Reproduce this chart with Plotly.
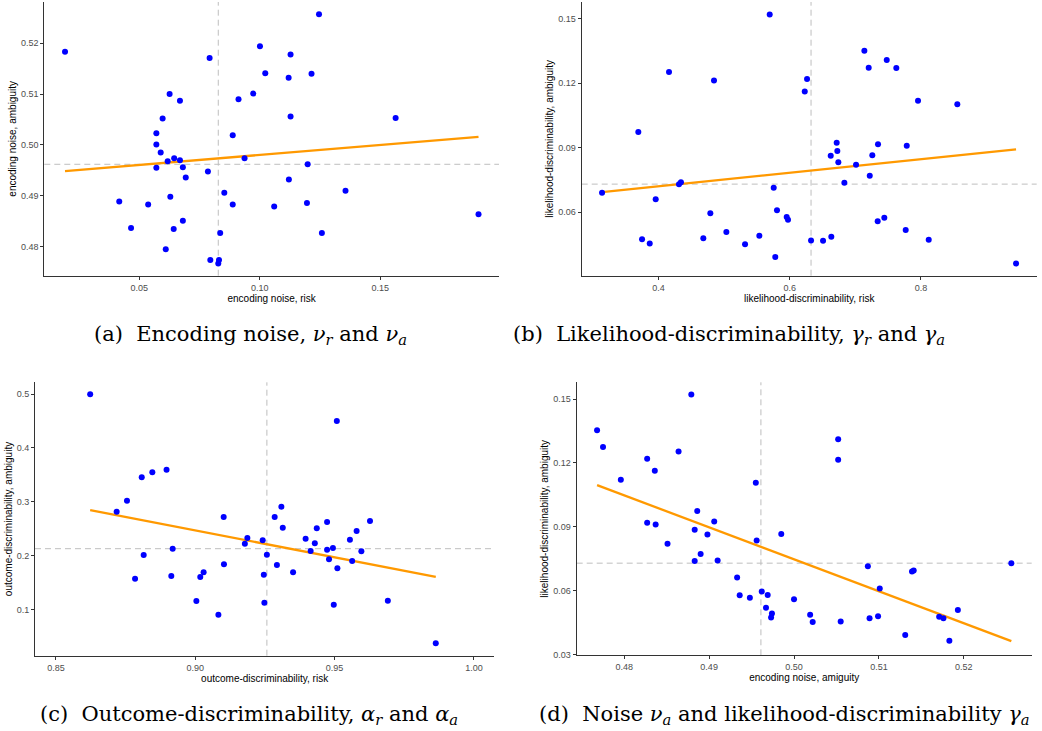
import numpy as np
import plotly.graph_objects as go

# ---------------- data ----------------
# (a) encoding noise: risk (x) vs ambiguity (y)
a_x = [0.0192, 0.0792, 0.0626, 0.0669, 0.0597, 0.0571, 0.0571, 0.0589, 0.0645, 0.0669,
       0.0618, 0.0571, 0.0681, 0.0693, 0.0785, 0.0417, 0.0537, 0.0629, 0.0466, 0.0643,
       0.0681, 0.0610, 0.0795, 0.0831, 0.0828, 0.0836, 0.0853, 0.0888, 0.0888, 0.0912,
       0.0937, 0.0973, 0.1001, 0.1246, 0.1128, 0.1023, 0.1120, 0.1215, 0.1128, 0.1564,
       0.1199, 0.1121, 0.1356, 0.1060, 0.1196, 0.1258, 0.1908]
a_y = [0.5183, 0.5171, 0.5100, 0.5087, 0.5052, 0.5023, 0.5001, 0.4985, 0.4974, 0.4970,
       0.4968, 0.4955, 0.4956, 0.4936, 0.4948, 0.4889, 0.4883, 0.4898, 0.4837, 0.4835,
       0.4851, 0.4795, 0.4774, 0.4774, 0.4767, 0.4827, 0.4906, 0.4883, 0.5019, 0.5090,
       0.4974, 0.5101, 0.5194, 0.5257, 0.5178, 0.5141, 0.5132, 0.5140, 0.5056, 0.5053,
       0.4962, 0.4932, 0.4910, 0.4879, 0.4886, 0.4827, 0.4864]
a_ref = (0.0828, 0.4962)

# (b) likelihood-discriminability: risk (x) vs ambiguity (y)
b_x = [0.3139, 0.3692, 0.4160, 0.4846, 0.4312, 0.4342, 0.3957, 0.3749, 0.3866, 0.4790,
       0.4683, 0.5034, 0.5319, 0.5537, 0.5780, 0.5695, 0.5756, 0.5806, 0.5954, 0.5974,
       0.6229, 0.6264, 0.6325, 0.6508, 0.6634, 0.6625, 0.6716, 0.6726, 0.6741, 0.6833,
       0.7011, 0.7138, 0.7204, 0.7220, 0.7259, 0.7346, 0.7341, 0.7442, 0.7479, 0.7625,
       0.7768, 0.7784, 0.7956, 0.8119, 0.8555, 0.9450]
b_y = [0.0691, 0.0973, 0.1253, 0.1213, 0.0730, 0.0740, 0.0661, 0.0475, 0.0455, 0.0595,
       0.0479, 0.0508, 0.0451, 0.0491, 0.0392, 0.1520, 0.0714, 0.0609, 0.0578, 0.0565,
       0.1162, 0.1220, 0.0469, 0.0467, 0.0486, 0.0863, 0.0923, 0.0885, 0.0833, 0.0737,
       0.0821, 0.1351, 0.1272, 0.0770, 0.0865, 0.0916, 0.0558, 0.0574, 0.1308, 0.1271,
       0.0517, 0.0909, 0.1119, 0.0472, 0.1103, 0.0362]
b_ref = (0.6325, 0.0731)

# (c) outcome-discriminability: risk (x) vs ambiguity (y)
c_x = [0.8623, 0.8718, 0.8755, 0.8808, 0.8846, 0.8897, 0.8784, 0.8815, 0.8919, 0.8914,
       0.9018, 0.9030, 0.9004, 0.9083, 0.9102, 0.9103, 0.9178, 0.9187, 0.9508, 0.9309,
       0.9285, 0.9314, 0.9242, 0.9257, 0.9293, 0.9246, 0.9248, 0.9351, 0.9396, 0.9414,
       0.9429, 0.9436, 0.9473, 0.9473, 0.9494, 0.9480, 0.9510, 0.9497, 0.9555, 0.9563,
       0.9579, 0.9596, 0.9627, 0.9691, 0.9863]
c_y = [0.4994, 0.2816, 0.3020, 0.3455, 0.3547, 0.3596, 0.1573, 0.2013, 0.2130, 0.1623,
       0.1605, 0.1692, 0.1160, 0.0905, 0.2718, 0.1840, 0.2223, 0.2328, 0.4499, 0.2909,
       0.2718, 0.2520, 0.2286, 0.2019, 0.1827, 0.1648, 0.1128, 0.1692, 0.2316, 0.2087,
       0.2230, 0.2508, 0.2625, 0.2111, 0.2143, 0.1933, 0.1766, 0.1091, 0.2297, 0.1902,
       0.2458, 0.2082, 0.2644, 0.1165, 0.0375]
c_ref = (0.9257, 0.2130)

# (d) encoding noise (ambiguity) vs likelihood-discriminability (ambiguity)
d_x = [0.4768, 0.4775, 0.4796, 0.4827, 0.4836, 0.4864, 0.4879, 0.4827, 0.4837, 0.4851,
       0.4886, 0.4883, 0.4906, 0.4898, 0.4890, 0.4883, 0.4910, 0.4955, 0.4956, 0.4933,
       0.4936, 0.4948, 0.4962, 0.4969, 0.4967, 0.4974, 0.4973, 0.4985, 0.5000, 0.5019,
       0.5022, 0.5052, 0.5052, 0.5055, 0.5087, 0.5089, 0.5099, 0.5101, 0.5131, 0.5139,
       0.5141, 0.5171, 0.5176, 0.5183, 0.5193, 0.5256]
d_y = [0.1354, 0.1275, 0.1121, 0.1220, 0.1163, 0.1254, 0.1522, 0.0919, 0.0911, 0.0820,
       0.0974, 0.0886, 0.0925, 0.0864, 0.0772, 0.0739, 0.0742, 0.1107, 0.0836, 0.0662,
       0.0578, 0.0566, 0.0596, 0.0579, 0.0519, 0.0493, 0.0474, 0.0866, 0.0559, 0.0486,
       0.0452, 0.1311, 0.1215, 0.0455, 0.0715, 0.0470, 0.0480, 0.0610, 0.0391, 0.0690,
       0.0695, 0.0477, 0.0470, 0.0364, 0.0509, 0.0729]
d_ref = (0.4961, 0.0729)

x_titles = ["encoding noise, risk", "likelihood-discriminability, risk",
            "outcome-discriminability, risk", "encoding noise, amiguity"]
y_titles = ["encoding noise, ambiguity", "likelihood-discriminability, ambiguity",
            "outcome-discriminability, ambiguity", "likelihood-discriminability, ambiguity"]
captions = ["(a)  Encoding noise, <i>ν<sub>r</sub></i> and <i>ν<sub>a</sub></i>",
            "(b)  Likelihood-discriminability, <i>γ<sub>r</sub></i> and <i>γ<sub>a</sub></i>",
            "(c)  Outcome-discriminability, <i>α<sub>r</sub></i> and <i>α<sub>a</sub></i>",
            "(d)  Noise <i>ν<sub>a</sub></i> and likelihood-discriminability <i>γ<sub>a</sub></i>"]

# ---------------- layout geometry ----------------
W, H = 1042, 731
panels = [
    dict(x=a_x, y=a_y, ref=a_ref, px=(44.3, 499.0), py=(2.0, 275.7),
         xr=(0.0106, 0.1993), yr=(0.4743, 0.5281), xt=[0.05, 0.10, 0.15], xf=".2f",
         yt=[0.48, 0.49, 0.50, 0.51, 0.52], yf=".2f", cap=(250, 335)),
    dict(x=b_x, y=b_y, ref=b_ref, px=(581.7, 1036.7), py=(2.0, 275.7),
         xr=(0.2829, 0.9765), yr=(0.0305, 0.1578), xt=[0.4, 0.6, 0.8], xf=".1f",
         yt=[0.06, 0.09, 0.12, 0.15], yf=".2f", cap=(729, 335)),
    dict(x=c_x, y=c_y, ref=c_ref, px=(35.0, 494.3), py=(382.3, 655.7),
         xr=(0.8425, 1.0073), yr=(0.0145, 0.5217), xt=[0.85, 0.90, 0.95, 1.00], xf=".2f",
         yt=[0.1, 0.2, 0.3, 0.4, 0.5], yf=".1f", cap=(249, 715)),
    dict(x=d_x, y=d_y, ref=d_ref, px=(576.7, 1031.7), py=(382.3, 655.3),
         xr=(0.4744, 0.5280), yr=(0.0296, 0.1579), xt=[0.48, 0.49, 0.50, 0.51, 0.52], xf=".2f",
         yt=[0.03, 0.06, 0.09, 0.12, 0.15], yf=".2f", cap=(784, 715)),
]

fig = go.Figure()
layout = dict(width=W, height=H, margin=dict(l=0, r=0, t=0, b=0),
              paper_bgcolor="white", plot_bgcolor="white", showlegend=False,
              shapes=[], annotations=[])

axis_common = dict(showgrid=False, zeroline=False, showline=True, linecolor="#333333",
                   linewidth=1.1, ticks="outside", ticklen=3, tickwidth=1.1,
                   tickcolor="#333333", automargin=False,
                   tickfont=dict(family="Liberation Sans, Arial", size=9, color="#4D4D4D"))

for i, p in enumerate(panels):
    n = "" if i == 0 else str(i + 1)
    xa, ya = "x" + n, "y" + n
    x = np.array(p["x"]); y = np.array(p["y"])
    slope, icpt = np.polyfit(x, y, 1)
    xs = np.array([x.min(), x.max()])
    fig.add_trace(go.Scatter(x=xs, y=icpt + slope * xs, mode="lines",
                             line=dict(color="#FF9900", width=2.3),
                             xaxis=xa, yaxis=ya, hoverinfo="skip"))
    fig.add_trace(go.Scatter(x=x, y=y, mode="markers",
                             marker=dict(color="#0000FF", size=6, line=dict(width=0)),
                             xaxis=xa, yaxis=ya))
    layout["xaxis" + n] = dict(axis_common, domain=[p["px"][0] / W, p["px"][1] / W],
                               range=list(p["xr"]), anchor=ya, tickvals=p["xt"],
                               tickformat=p["xf"],
                               title=dict(text=x_titles[i], standoff=2,
                                          font=dict(family="Liberation Sans, Arial", size=10,
                                                    color="#000000")))
    layout["yaxis" + n] = dict(axis_common, domain=[1 - p["py"][1] / H, 1 - p["py"][0] / H],
                               range=list(p["yr"]), anchor=xa, tickvals=p["yt"],
                               tickformat=p["yf"],
                               title=dict(text=y_titles[i], standoff=2,
                                          font=dict(family="Liberation Sans, Arial", size=10,
                                                    color="#000000")))
    dash = dict(color="#BEBEBE", width=1, dash="6px,4px")
    layout["shapes"].append(dict(type="line", xref=xa, yref=ya + " domain",
                                 x0=p["ref"][0], x1=p["ref"][0], y0=0, y1=1,
                                 line=dash, layer="below"))
    layout["shapes"].append(dict(type="line", xref=xa + " domain", yref=ya,
                                 x0=0, x1=1, y0=p["ref"][1], y1=p["ref"][1],
                                 line=dash, layer="below"))
    layout["annotations"].append(dict(text=captions[i], xref="paper", yref="paper",
                                      x=p["cap"][0] / W, y=1 - p["cap"][1] / H,
                                      xanchor="center", yanchor="middle", showarrow=False,
                                      font=dict(family="DejaVu Serif, serif", size=21,
                                                color="#000000")))

fig.update_layout(**layout)
fig.write_html("out.html")
